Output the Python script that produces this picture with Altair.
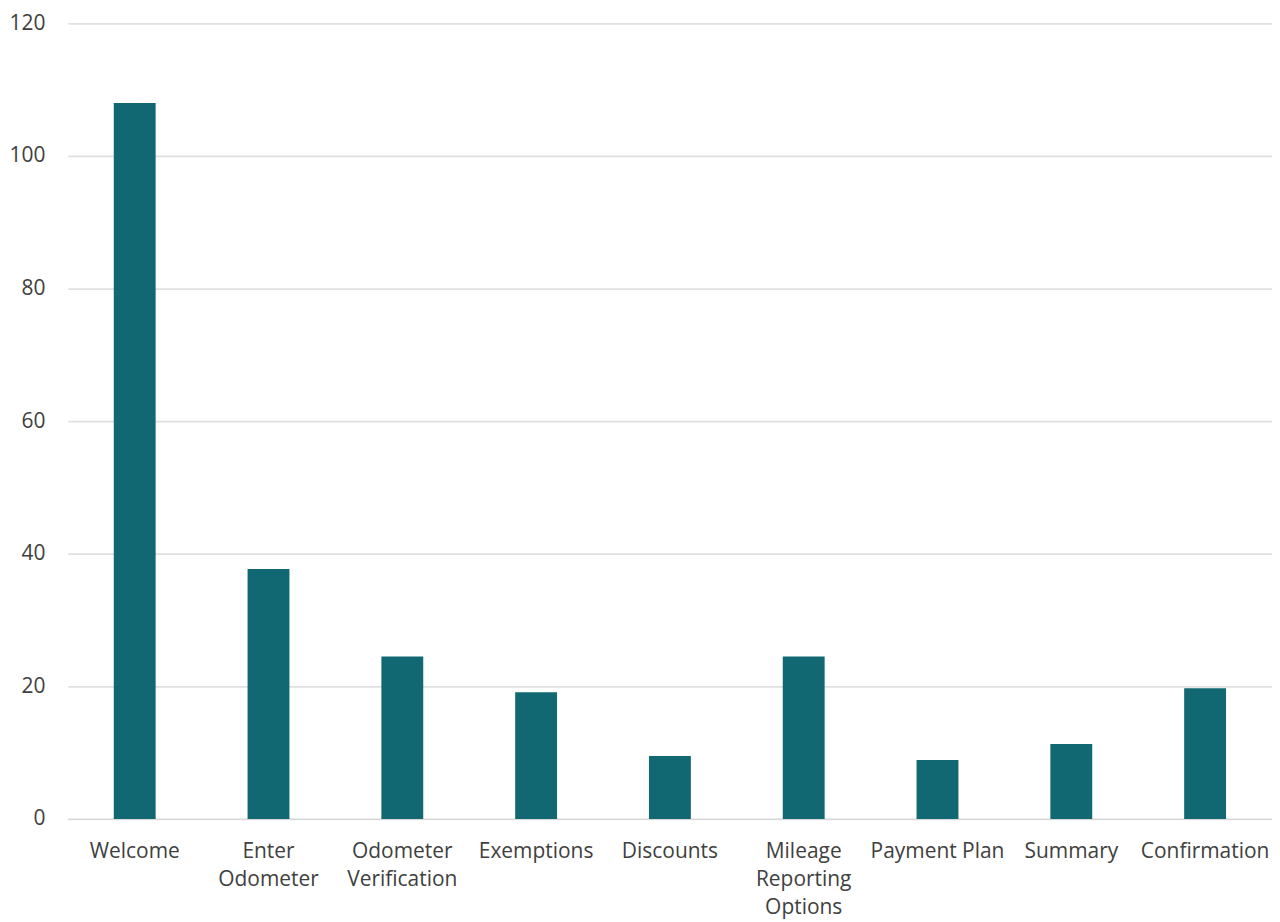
import altair as alt
import pandas as pd

categories = ["Welcome", "Enter Odometer", "Odometer Verification", "Exemptions",
              "Discounts", "Mileage Reporting Options", "Payment Plan", "Summary", "Confirmation"]
values = [108.0, 37.7, 24.5, 19.1, 9.5, 24.5, 8.9, 11.3, 19.7]
label_lines = {
    "Enter Odometer": ["Enter", "Odometer"],
    "Odometer Verification": ["Odometer", "Verification"],
    "Mileage Reporting Options": ["Mileage", "Reporting", "Options"],
}
y_ticks = [0, 20, 40, 60, 80, 100, 120]

df = pd.DataFrame({"step": categories, "value": values})

expr = "datum.label"
for k, v in label_lines.items():
    arr = "[" + ",".join("'" + s + "'" for s in v) + "]"
    expr = f"datum.label == '{k}' ? {arr} : ({expr})"

FONT = "Open Sans"
chart = alt.Chart(df).mark_bar(color="#126872").encode(
    x=alt.X("step:N", sort=categories, title=None,
            scale=alt.Scale(paddingInner=0.687, paddingOuter=0.3435),
            axis=alt.Axis(labelAngle=0, labelExpr=expr, ticks=False,
                          domainColor="#d9d9d9", domainWidth=1.5,
                          labelFont=FONT, labelFontSize=21, labelColor="#404040",
                          labelPadding=22, labelLineHeight=28, labelBaseline="top")),
    y=alt.Y("value:Q", title=None,
            scale=alt.Scale(domain=[0, 120], nice=False),
            axis=alt.Axis(values=y_ticks, ticks=False, domain=False,
                          gridColor="#e0e0e0", gridWidth=1.8,
                          labelFont=FONT, labelFontSize=21, labelColor="#404040",
                          labelPadding=23)),
).properties(
    width=1208, height=798,
    padding={"left": 60, "top": 14, "right": 0, "bottom": 101},
    autosize=alt.AutoSizeParams(type="none"),
).configure_view(stroke=None)

chart.save("out.html", embed_options={"renderer": "svg", "actions": False})
